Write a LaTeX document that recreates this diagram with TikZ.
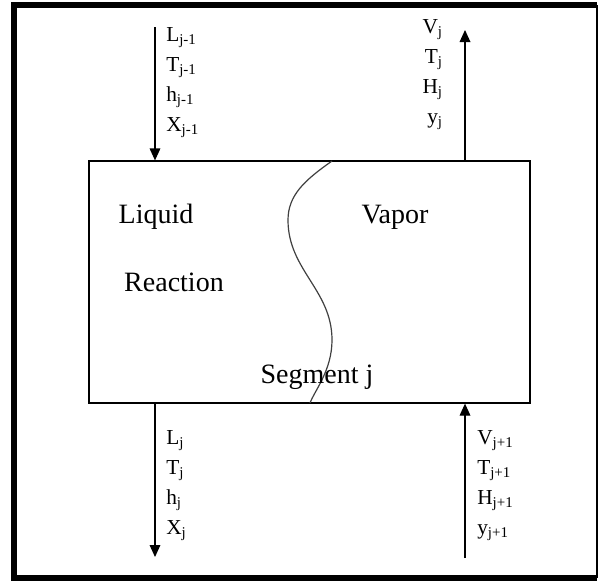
\documentclass[tikz,border=0pt]{standalone}
\usepackage{fontspec}
\setmainfont{Liberation Serif}
\usetikzlibrary{arrows.meta}
\tikzset{
  flow/.style={-{Triangle[width=8pt,length=9pt]}, line width=0.9pt},
  streamlbl/.style={font=\fontsize{16}{22.5}\selectfont, inner sep=0pt},
  phaselbl/.style={font=\fontsize{21}{24}\selectfont, inner sep=0pt}
}

\begin{document}
\begin{tikzpicture}[x=0.75pt, y=-0.75pt]
  \useasboundingbox (0,0) rectangle (599,582);
  % Outer frame
  \draw[line width=4.5pt] (597,5) -- (13.5,5) -- (13.5,577.5) -- (597,577.5);
  \draw[line width=1.2pt] (597,5) -- (597,577.5);
  % Segment box
  \node[draw, line width=0.9pt, minimum width=330.75pt, minimum height=181.5pt] (seg) at (309.5,282) {};
  % Liquid/vapor interface
  \draw[line width=0.9pt, black!75] (332,161) .. controls (305,180) and (288,195) .. (288,220)
    .. controls (288,270) and (332,290) .. (332,340)
    .. controls (332,370) and (315,390) .. (310,403);
  % Texts inside the box
  \node[phaselbl] (liq) at (156,217) {Liquid};
  \node[phaselbl] (vap) at (395,217) {Vapor};
  \node[phaselbl] (rxn) at (174,282) {Reaction};
  \node[phaselbl] (segname) at (317,377) {Segment j};
  % Streams in and out
  \coordinate (lin) at (155,27);
  \coordinate (vout) at (465,30);
  \coordinate (lout) at (155,557);
  \coordinate (vin) at (465,558);
  \draw[flow] (lin) -- (lin |- seg.north);
  \draw[flow] (vout |- seg.north) -- (vout);
  \draw[flow] (lout |- seg.south) -- (lout);
  \draw[flow] (vin) -- (vin |- seg.south);
  % Stream labels
  \node[streamlbl, align=left, anchor=north west] (linlbl) at (166,27)
    {L\textsubscript{j-1}\\T\textsubscript{j-1}\\h\textsubscript{j-1}\\X\textsubscript{j-1}};
  \node[streamlbl, align=right, anchor=north east] (voutlbl) at (443,19)
    {V\textsubscript{j}\\T\textsubscript{j}\\H\textsubscript{j}\\y\textsubscript{j}};
  \node[streamlbl, align=left, anchor=north west] (loutlbl) at (166,430)
    {L\textsubscript{j}\\T\textsubscript{j}\\h\textsubscript{j}\\X\textsubscript{j}};
  \node[streamlbl, align=left, anchor=north west] (vinlbl) at (477,430)
    {V\textsubscript{j+1}\\T\textsubscript{j+1}\\H\textsubscript{j+1}\\y\textsubscript{j+1}};
\end{tikzpicture}
\end{document}
